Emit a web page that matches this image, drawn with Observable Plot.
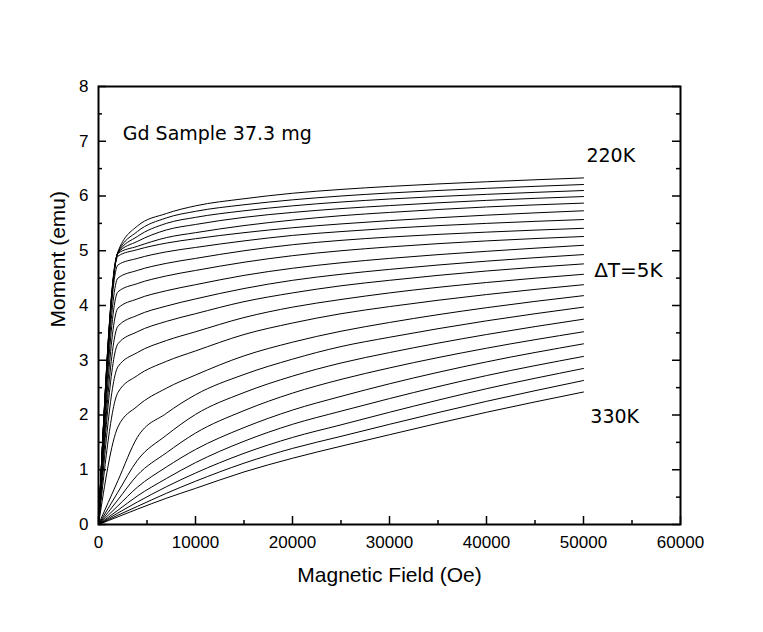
<!DOCTYPE html>
<html><head><meta charset="utf-8">
<script src="https://cdn.jsdelivr.net/npm/d3@7"></script>
<script src="https://cdn.jsdelivr.net/npm/@observablehq/plot@0.6"></script>
<style>
  html,body{margin:0;padding:0;background:#fff;}
  #chart{position:absolute;left:0;top:0;}
</style>
</head><body><div id="chart"></div>
<script>
// Applied field (Oe) at which each curve is sampled
const fields = [0, 2000, 4000, 7000, 10000, 15000, 20000, 25000, 30000, 40000, 50000];
// Temperatures (K), ΔT = 5 K
const temperatures = [220, 225, 230, 235, 240, 245, 250, 255, 260, 265, 270, 275, 280, 285, 290, 295, 300, 305, 310, 315, 320, 325, 330];
// Moment (emu) per temperature
const m220 = [0, 4.98, 5.45, 5.68, 5.82, 5.95, 6.05, 6.12, 6.175, 6.26, 6.33];
const m225 = [0, 4.97, 5.35, 5.60, 5.72, 5.84, 5.93, 6.00, 6.055, 6.14, 6.21];
const m230 = [0, 4.96, 5.26, 5.50, 5.61, 5.73, 5.82, 5.89, 5.945, 6.03, 6.10];
const m235 = [0, 4.96, 5.17, 5.38, 5.48, 5.61, 5.70, 5.77, 5.825, 5.92, 5.99];
const m240 = [0, 4.95, 5.08, 5.24, 5.33, 5.46, 5.56, 5.64, 5.70, 5.80, 5.87];
const m245 = [0, 4.90, 5.02, 5.14, 5.22, 5.33, 5.42, 5.49, 5.55, 5.65, 5.73];
const m250 = [0, 4.74, 4.86, 4.98, 5.06, 5.18, 5.28, 5.35, 5.41, 5.50, 5.57];
const m255 = [0, 4.50, 4.64, 4.77, 4.86, 5.00, 5.11, 5.19, 5.25, 5.34, 5.41];
const m260 = [0, 4.25, 4.40, 4.54, 4.64, 4.79, 4.91, 5.00, 5.07, 5.18, 5.26];
const m265 = [0, 3.95, 4.12, 4.27, 4.38, 4.55, 4.68, 4.78, 4.86, 4.99, 5.10];
const m270 = [0, 3.62, 3.82, 3.99, 4.12, 4.31, 4.46, 4.57, 4.66, 4.81, 4.93];
const m275 = [0, 3.30, 3.52, 3.71, 3.85, 4.07, 4.23, 4.36, 4.46, 4.63, 4.76];
const m280 = [0, 2.88, 3.14, 3.36, 3.52, 3.78, 3.97, 4.11, 4.23, 4.42, 4.57];
const m285 = [0, 2.41, 2.72, 2.98, 3.17, 3.47, 3.68, 3.85, 3.98, 4.20, 4.38];
const m290 = [0, 1.78, 2.16, 2.49, 2.73, 3.08, 3.33, 3.53, 3.69, 3.96, 4.18];
const m295 = [0, 0.80, 1.59, 2.03, 2.37, 2.74, 3.02, 3.25, 3.42, 3.72, 3.97];
const m300 = [0, 0.59, 1.17, 1.63, 2.01, 2.41, 2.71, 2.95, 3.14, 3.47, 3.75];
const m305 = [0, 0.45, 0.90, 1.31, 1.67, 2.08, 2.40, 2.65, 2.86, 3.22, 3.52];
const m310 = [0, 0.34, 0.68, 1.05, 1.37, 1.77, 2.09, 2.34, 2.57, 2.97, 3.30];
const m315 = [0, 0.26, 0.52, 0.84, 1.13, 1.52, 1.83, 2.07, 2.30, 2.72, 3.07];
const m320 = [0, 0.21, 0.41, 0.69, 0.94, 1.30, 1.59, 1.82, 2.05, 2.48, 2.85];
const m325 = [0, 0.17, 0.33, 0.57, 0.79, 1.12, 1.39, 1.61, 1.83, 2.25, 2.63];
const m330 = [0, 0.14, 0.28, 0.48, 0.66, 0.96, 1.21, 1.43, 1.64, 2.05, 2.42];
const moments = [m220, m225, m230, m235, m240, m245, m250, m255, m260, m265, m270, m275,
                 m280, m285, m290, m295, m300, m305, m310, m315, m320, m325, m330];

// Axis ticks
const xMajorTicks = [0, 10000, 20000, 30000, 40000, 50000, 60000];
const xMinorTicks = [5000, 15000, 25000, 35000, 45000, 55000];
const yMajorTicks = [0, 1, 2, 3, 4, 5, 6, 7, 8];
const yMinorTicks = [0.5, 1.5, 2.5, 3.5, 4.5, 5.5, 6.5, 7.5];

// Annotation texts and their anchor points (data units)
const annotationText = ["Gd Sample 37.3 mg", "220K", "\u0394T=5K", "330K"];
const annotationField = [2500, 50300, 51100, 50700];
const annotationMoment = [7.14, 6.74, 4.64, 1.96];
const annotationSize = [19, 19, 20, 19];

const data = temperatures.flatMap((T, i) => fields.map((H, j) => ({T, H, M: moments[i][j]})));
const annotations = annotationText.map((label, i) => ({label, H: annotationField[i], M: annotationMoment[i], size: annotationSize[i]}));

const xMax = 60000, yMax = 8;
const majX = xMax * 8 / 582, minX = xMax * 4 / 582;   // tick lengths expressed in data units
const majY = yMax * 8 / 438, minY = yMax * 4 / 438;

const chart = Plot.plot({
  width: 763,
  height: 632,
  marginLeft: 98,
  marginRight: 83,
  marginTop: 86,
  marginBottom: 108,
  style: {fontFamily: "'Liberation Sans', Arial, sans-serif", fontSize: "17px", color: "#000", background: "#fff"},
  x: {domain: [0, xMax], label: null},
  y: {domain: [0, yMax], label: null},
  marks: [
    Plot.line(data, {x: "H", y: "M", z: "T", stroke: "#000", strokeWidth: 1, curve: "monotone-x"}),
    // inward ticks: bottom
    Plot.ruleX(xMajorTicks, {x: d => d, y1: 0, y2: majY, stroke: "#000", strokeWidth: 1.5}),
    Plot.ruleX(xMinorTicks, {x: d => d, y1: 0, y2: minY, stroke: "#000", strokeWidth: 1.5}),
    // inward ticks: left
    Plot.ruleY(yMajorTicks, {y: d => d, x1: 0, x2: majX, stroke: "#000", strokeWidth: 1.5}),
    Plot.ruleY(yMinorTicks, {y: d => d, x1: 0, x2: minX, stroke: "#000", strokeWidth: 1.5}),
    // inward ticks: right
    Plot.ruleY(yMajorTicks, {y: d => d, x1: xMax - majX, x2: xMax, stroke: "#000", strokeWidth: 1.5}),
    Plot.ruleY(yMinorTicks, {y: d => d, x1: xMax - minX, x2: xMax, stroke: "#000", strokeWidth: 1.5}),
    Plot.frame({stroke: "#000", strokeWidth: 2}),
    Plot.axisX({ticks: xMajorTicks, tickSize: 0, tickPadding: 11, tickFormat: d => String(d), label: null}),
    Plot.axisY({ticks: yMajorTicks, tickSize: 0, tickPadding: 10, tickFormat: d => String(d), label: null}),
    Plot.text(["Magnetic Field (Oe)"], {frameAnchor: "bottom", dy: 57, fontSize: 21}),
    Plot.text(["Moment (emu)"], {frameAnchor: "left", dx: -40, dy: 22, rotate: -90, fontSize: 21}),
    Plot.text(annotations, {x: "H", y: "M", text: "label", textAnchor: "start", fontSize: "size", fontFamily: "'DejaVu Sans', sans-serif"})
  ]
});
document.getElementById("chart").appendChild(chart);
</script>
</body></html>
